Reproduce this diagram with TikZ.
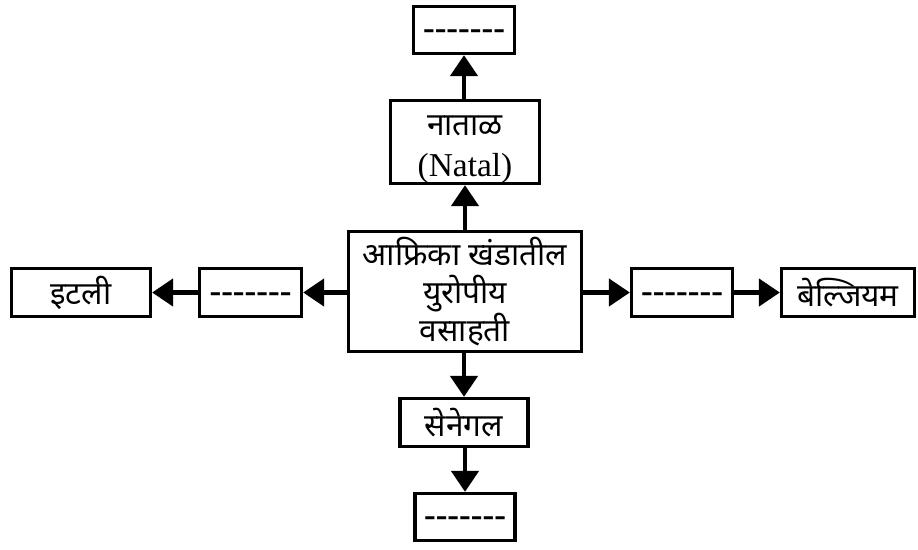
\documentclass[tikz,border=0pt]{standalone}
\usepackage{fontspec}
\setmainfont{Liberation Serif}
\newfontfamily\deva[Script=Devanagari]{Noto Sans}
\usetikzlibrary{arrows.meta}
\newcommand\blank{-{}-{}-{}-{}-{}-{}-}
\tikzset{
  box/.style={draw,line width=0.066cm,inner sep=0pt,align=center,
    font=\deva\fontsize{18}{21.5}\selectfont},
  dashbox/.style={box,font=\bfseries\fontsize{20}{21}\selectfont,
    text height=0.38cm,text depth=0cm},
  link/.style={->,line width=0.09cm}
}
\begin{document}
\begin{tikzpicture}[x=0.02cm,y=-0.02cm,>={Triangle[length=0.42cm,width=0.54cm]}]
    \useasboundingbox (0,0) rectangle (918,549);
    \node[box,minimum width=4.66cm,minimum height=2.4cm] (M) at (465,291.5)
        {आफ्रिका खंडातील\\युरोपीय\\वसाहती};
    \node[box,minimum width=2.98cm,minimum height=1.66cm] (N) at (465,142)
        {\raisebox{-0.13cm}[\height][\depth]{\begin{tabular}{@{}c@{}}नाताळ\\[2pt]
        {\rmfamily\fontsize{19}{21}\selectfont (Natal)}\end{tabular}}};
    \node[dashbox,minimum width=2.02cm,minimum height=0.94cm] (NT) at (464,30) {\blank};
    \node[box,minimum width=2.56cm,minimum height=0.96cm] (S) at (464,422.5) {सेनेगल};
    \node[dashbox,minimum width=2.0cm,minimum height=0.94cm] (SB) at (465,517) {\blank};
    \node[dashbox,minimum width=2.04cm,minimum height=0.96cm] (LD) at (250.5,292.5) {\blank};
    \node[box,minimum width=2.78cm,minimum height=0.96cm] (I) at (81,292.5) {इटली};
    \node[dashbox,minimum width=2.02cm,minimum height=0.96cm] (RD) at (682,292.5) {\blank};
    \node[box,minimum width=2.66cm,minimum height=0.96cm] (BE) at (848,292.5) {बेल्जियम};
    \draw[link] (M.north -| N) -- (N);
    \draw[link] (N.north -| NT) -- (NT);
    \draw[link] (M.south -| S) -- (S);
    \draw[link] (S.south -| SB) -- (SB);
    \draw[link] (M.west |- LD) -- (LD);
    \draw[link] (LD) -- (I);
    \draw[link] (M.east |- RD) -- (RD);
    \draw[link] (RD) -- (BE);
\end{tikzpicture}
\end{document}
